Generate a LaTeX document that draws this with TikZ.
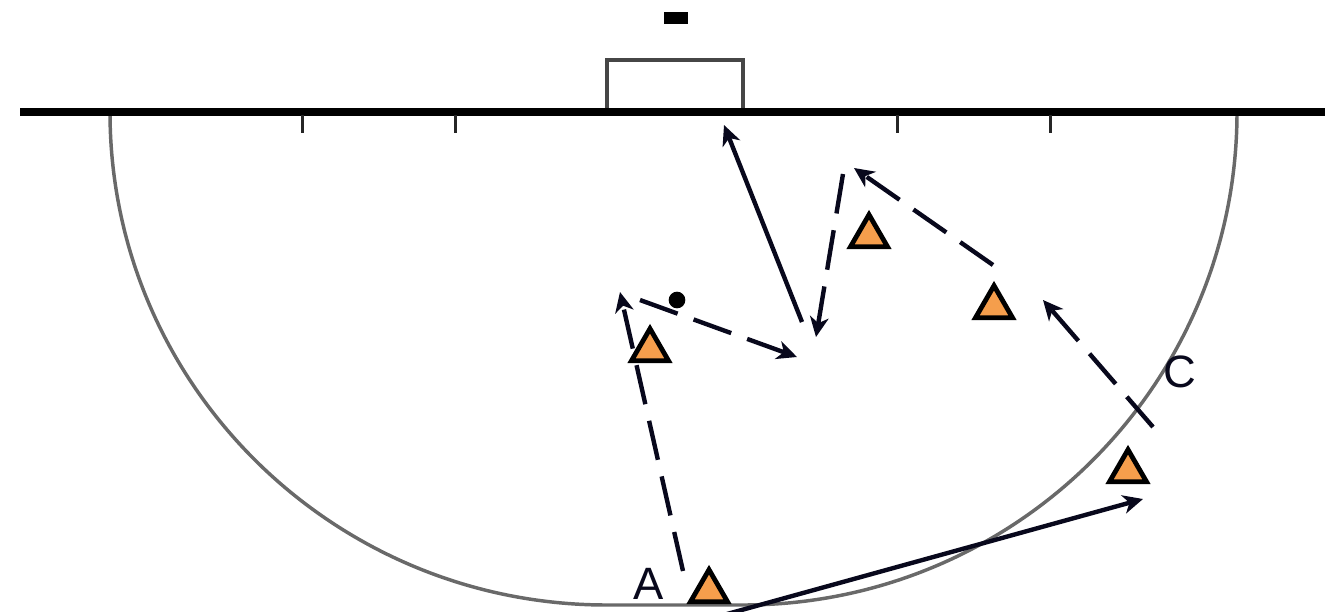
\documentclass[tikz,border=0pt]{standalone}
\usepackage{fontspec}
\setmainfont{Liberation Sans}
\usetikzlibrary{arrows.meta,shapes.geometric}
\definecolor{ink}{RGB}{8,8,28}
\definecolor{conefill}{RGB}{245,158,76}
\definecolor{pitchline}{RGB}{105,105,105}
\definecolor{postline}{RGB}{70,70,70}
\begin{document}
\begin{tikzpicture}[x=0.75pt,y=-0.75pt,
  cone/.style={regular polygon, regular polygon sides=3, minimum size=32pt,
    inner sep=0pt, draw=black, fill=conefill, line width=3.6pt},
  run/.style={draw=ink, line width=3.3pt, line cap=butt,
    -{Stealth[length=15pt,width=14pt,inset=4.5pt]}},
  pass/.style={run, dash pattern=on 30pt off 12.75pt},
  lbl/.style={inner sep=0pt, text=ink, font=\fontsize{34}{40}\selectfont},
  tick/.style={draw=black!85, line width=2.25pt}]
\useasboundingbox (0,0) rectangle (1342,611);

% goal and marker above it
\fill[black] (664,12) rectangle (688,24);
\draw[postline, line width=2.6pt] (607,110) -- (607,60) -- (743,60) -- (743,110);

% shooting circle: two quarter arcs joined by a short straight
\draw[pitchline, line width=2.6pt]
  (110,112) arc[start angle=180, end angle=90, x radius=497, y radius=493]
  -- (743,605) arc[start angle=90, end angle=0, x radius=494, y radius=493];

% back line and its marks
\draw[black, line width=6pt] (20,112) -- (1325,112);
\foreach \tx in {302,455,897,1050}
  \draw[tick] (\tx,115) -- (\tx,133);

% ball
\node[circle, fill=black, minimum size=12.5pt, inner sep=0pt] (ball) at (677,300) {};

% free ends of the runs and passes
\coordinate (a0) at (683,571);
\coordinate (a1) at (620,292);
\coordinate (b0) at (640,300);
\coordinate (b1) at (797,357);
\coordinate (c0) at (802,322);
\coordinate (c1) at (724,125);
\coordinate (d0) at (843,174);
\coordinate (d1) at (816,337);
\coordinate (e0) at (993,265);
\coordinate (e1) at (854,168);
\coordinate (f0) at (1153,427);
\coordinate (f1) at (1043,300);
\coordinate (g0) at (709,619);
\coordinate (g1) at (1143,499);

\draw[pass] (a0) -- (a1);
\draw[pass] (b0) -- (b1);
\draw[run]  (c0) -- (c1);
\draw[pass] (d0) -- (d1);
\draw[pass] (e0) -- (e1);
\draw[pass] (f0) -- (f1);
\draw[run]  (g0) -- (g1);

% cones
\node[cone] (t1) at (650,350) {};
\node[cone] (t2) at (869,236) {};
\node[cone] (t3) at (994,307) {};
\node[cone] (t4) at (1128,471) {};
\node[cone] (t5) at (709,591) {};

% labels
\node[lbl] (labA) at (649,584) {A};
\node[lbl] (labC) at (1180,372) {C};
\end{tikzpicture}
\end{document}
